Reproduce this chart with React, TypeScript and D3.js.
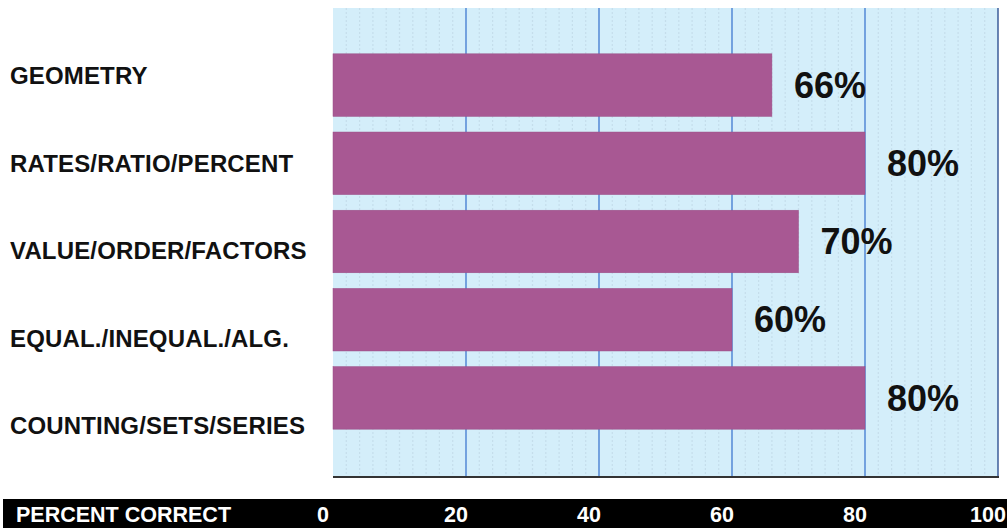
import React from "react";
import * as d3 from "d3";

const categories = [
  "GEOMETRY",
  "RATES/RATIO/PERCENT",
  "VALUE/ORDER/FACTORS",
  "EQUAL./INEQUAL./ALG.",
  "COUNTING/SETS/SERIES",
];
const values = [66, 80, 70, 60, 80];
const tickValues = [0, 20, 40, 60, 80, 100];
const axisTitle = "PERCENT CORRECT";

const W = 1007;
const H = 528;
const plot = { left: 333, right: 998, top: 8, bottom: 477 };

export default function App() {
  const x = d3.scaleLinear().domain([0, 100]).range([plot.left, plot.right]);
  const y = d3
    .scaleBand<string>()
    .domain(categories)
    .range([46, 437])
    .paddingInner(0.2)
    .paddingOuter(0.1);
  const labelY = d3.scalePoint<string>().domain(categories).range([76, 426]);
  const minor = d3.range(2, 100, 2).filter((v) => v % 20 !== 0);
  const major = [20, 40, 60, 80];
  const font = "'Liberation Sans', Arial, Helvetica, sans-serif";

  return (
    <svg
      width={W}
      height={H}
      style={{ position: "absolute", left: 0, top: 0, background: "#fff" }}
      fontFamily={font}
    >
      <rect
        x={plot.left}
        y={plot.top}
        width={plot.right - plot.left}
        height={plot.bottom - plot.top}
        fill="#d4eefa"
      />
      {minor.map((v) => (
        <line
          key={"m" + v}
          x1={x(v)}
          x2={x(v)}
          y1={plot.top}
          y2={plot.bottom}
          stroke="#c0d8e6"
          strokeWidth={1.2}
          strokeDasharray="2 2"
          opacity={0.7}
        />
      ))}
      {major.map((v) => (
        <line
          key={"g" + v}
          x1={x(v)}
          x2={x(v)}
          y1={plot.top}
          y2={plot.bottom}
          stroke="#5b8ed8"
          strokeWidth={1.6}
        />
      ))}
      <line x1={plot.right} x2={plot.right} y1={plot.top} y2={plot.bottom} stroke="#3d5d9a" strokeWidth={1.5} />
      <line x1={plot.left} x2={plot.right + 1} y1={plot.bottom} y2={plot.bottom} stroke="#333" strokeWidth={2} />

      {categories.map((c, i) => (
        <g key={c}>
          <rect
            x={x(0)}
            y={y(c)}
            width={x(values[i]) - x(0)}
            height={y.bandwidth()}
            fill="#a85893"
            stroke="#9a4e86"
            strokeWidth={0.5}
          />
          <text
            x={x(values[i]) + 22}
            y={(y(c) as number) + y.bandwidth() / 2}
            dy="0.35em"
            fontSize={36}
            fontWeight="bold"
            fill="#111"
          >
            {values[i]}%
          </text>
          <text
            x={10}
            y={labelY(c)}
            dy="0.35em"
            fontSize={24}
            fontWeight="bold"
            letterSpacing={0.15}
            fill="#111"
          >
            {c}
          </text>
        </g>
      ))}

      <rect x={3} y={499} width={W - 3} height={H - 499} fill="#000" />
      <text x={16} y={514} dy="0.35em" fontSize={21.5} fontWeight="bold" fill="#fff">
        {axisTitle}
      </text>
      {tickValues.map((t) => (
        <text
          key={"t" + t}
          x={x(t) - 10}
          y={514}
          dy="0.35em"
          textAnchor="middle"
          fontSize={21.5}
          fontWeight="bold"
          fill="#fff"
        >
          {t}
        </text>
      ))}
    </svg>
  );
}
